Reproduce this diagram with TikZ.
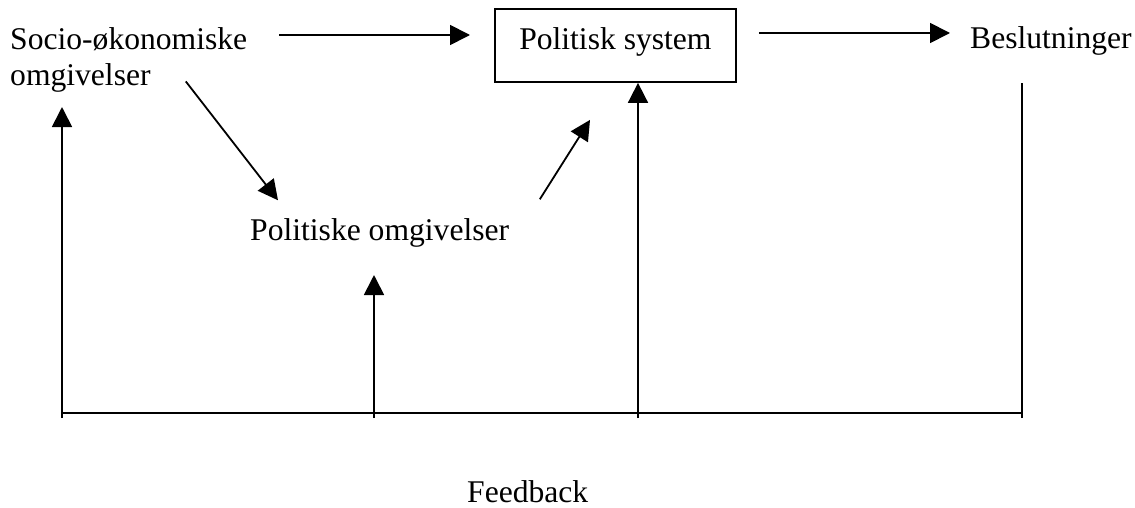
\documentclass[tikz,border=0pt]{standalone}
\usepackage{fontspec}
\setmainfont{Liberation Serif}
\usetikzlibrary{arrows.meta}
\begin{document}
\begin{tikzpicture}[x=1pt,y=-1pt,
  lbl/.style={inner sep=0pt,anchor=base west,font=\fontsize{31.6pt}{36pt}\selectfont},
  sysbox/.style={draw,line width=1.8pt,inner xsep=0pt,inner ysep=0pt,minimum width=241pt,text height=41pt,text depth=32pt,anchor=base west,font=\fontsize{31.6pt}{36pt}\selectfont},
  arr/.style={line width=1.8pt,-{Triangle[length=20pt,width=20pt]}},
  ln/.style={line width=1.8pt}]
\useasboundingbox (0,0) rectangle (1135,508);
\node[lbl] (socioA) at (10,50) {Socio-økonomiske};
\node[lbl] (socioB) at (10,86) {omgivelser};
\node[sysbox] (box) at (494,50) {Politisk system};
\node[lbl] (besl) at (970,49) {Beslutninger};
\node[lbl] (polomg) at (250,240) {Politiske omgivelser};
\node[lbl] (feedback) at (467,502) {Feedback};
\coordinate (fbL) at (62,413);
\coordinate (fb2) at (374,413);
\coordinate (fb3) at (638,413);
\coordinate (fbR) at (1022,413);
% top arrows
\path ([xshift=-24pt,yshift=10.5pt]box.west) coordinate (t1);
\draw[arr] ([xshift=32pt]socioA.east |- t1) -- (t1);
\draw[arr] ([xshift=22pt,yshift=12.5pt]box.east) coordinate (s2) -- ([xshift=-20pt]s2 -| besl.west);
% diagonal arrows
\draw[arr] ([xshift=35pt,yshift=-3pt]socioB.east) -- ([xshift=28pt,yshift=17.6pt]polomg.north west);
\draw[arr] ([xshift=30.5pt,yshift=18.6pt]polomg.north east) -- ([xshift=96pt,yshift=-37pt]box.south west);
% feedback lines
\draw[ln] (fbL) -- (fbR);
\draw[arr] ([yshift=-5pt]fbL) -- ([yshift=-14pt]fbL |- socioB.south);
\draw[arr] ([yshift=-5pt]fb2) -- ([yshift=-28pt]fb2 |- polomg.south);
\draw[arr] ([yshift=-5pt]fb3) -- (fb3 |- box.south);
\draw[ln] ([yshift=-5pt]fbR) -- ([yshift=-27pt]fbR |- besl.south);
\end{tikzpicture}
\end{document}
